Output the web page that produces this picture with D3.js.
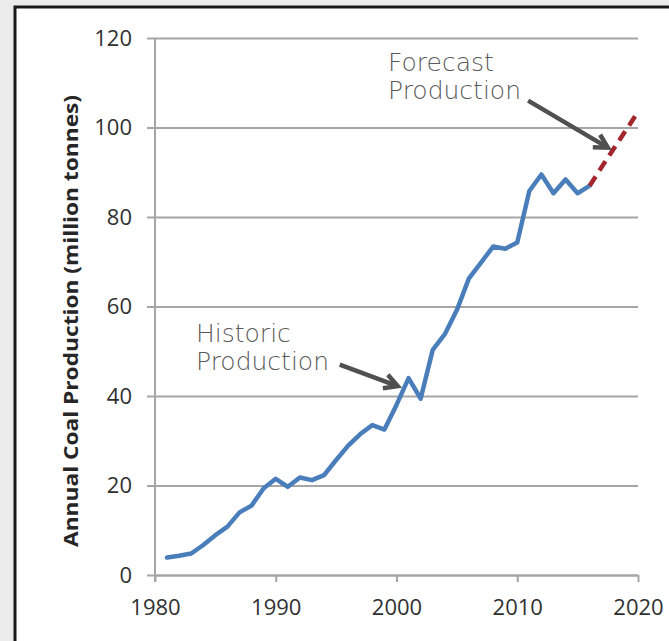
<!DOCTYPE html>
<html>
<head>
<meta charset="utf-8">
<script src="https://cdn.jsdelivr.net/npm/d3@7/dist/d3.min.js"></script>
<style>
  html, body { margin: 0; padding: 0; background: #ececec; }
  svg { display: block; }
</style>
</head>
<body>
<svg id="chart" width="669" height="641"></svg>
<script>
// ---- data ----
const historicYears = [1981,1982,1983,1984,1985,1986,1987,1988,1989,1990,1991,1992,1993,1994,1995,1996,1997,1998,1999,2000,2001,2002,2003,2004,2005,2006,2007,2008,2009,2010,2011,2012,2013,2014,2015,2016];
const historicValues = [3.9,4.3,4.8,6.7,8.9,10.8,14.0,15.5,19.4,21.5,19.7,21.8,21.2,22.3,25.7,28.9,31.5,33.5,32.5,38.0,44.0,39.4,50.3,53.8,59.2,66.3,69.8,73.4,72.9,74.3,85.8,89.5,85.3,88.4,85.3,87.0];
const forecastYears = [2016,2017,2018,2019,2020];
const forecastValues = [87.0,91.2,95.3,99.4,103.5];
const xTicks = [1980,1990,2000,2010,2020];
const yTicks = [0,20,40,60,80,100,120];
const yAxisTitle = "Annual Coal Production  (million tonnes)";
const annotations = [
  { lines: ["Historic", "Production"], from: [1995.3, 47.0], to: [2000.1, 42.2] },
  { lines: ["Forecast", "Production"], from: [2010.9, 106.0], to: [2017.5, 95.5] }
];

const svg = d3.select("#chart");

// panel with dark frame
svg.append("rect").attr("x", 0).attr("y", 0).attr("width", 669).attr("height", 641).attr("fill", "#ececec");
svg.append("rect").attr("x", 15).attr("y", 7).attr("width", 680).attr("height", 660)
  .attr("fill", "#ffffff").attr("stroke", "#1a1a1a").attr("stroke-width", 3);

const x = d3.scaleLinear().domain([1980, 2020]).range([155, 638]);
const y = d3.scaleLinear().domain([0, 120]).range([575, 38]);

const gridColor = "#a6a6a6";
const tickFont = "'Open Sans', 'DejaVu Sans', sans-serif";

// Y axis with gridlines
const yAxis = d3.axisLeft(y).tickValues(yTicks).tickSize(-(x.range()[1] - x.range()[0])).tickSizeOuter(0).tickPadding(23);
const gy = svg.append("g").attr("transform", `translate(${x(1980)},0)`).call(yAxis);
gy.select(".domain").remove();
gy.selectAll(".tick line").attr("stroke", gridColor).attr("stroke-width", 2);
gy.selectAll(".tick").append("line").attr("x1", -8).attr("x2", 0).attr("stroke", gridColor).attr("stroke-width", 2);
gy.selectAll(".tick text").attr("font-family", tickFont).attr("font-size", 22).attr("fill", "#303030");

// vertical axis line
svg.append("line").attr("x1", x(1980)).attr("x2", x(1980)).attr("y1", y(120)).attr("y2", y(0) + 7)
  .attr("stroke", gridColor).attr("stroke-width", 2);

// X axis
const xAxis = d3.axisBottom(x).tickValues(xTicks).tickFormat(d3.format("d")).tickSize(7).tickSizeOuter(0).tickPadding(17);
const gx = svg.append("g").attr("transform", `translate(0,${y(0)})`).call(xAxis);
gx.select(".domain").attr("stroke", gridColor).attr("stroke-width", 2);
gx.selectAll(".tick line").attr("stroke", gridColor).attr("stroke-width", 2);
gx.selectAll(".tick text").attr("font-family", tickFont).attr("font-size", 22).attr("fill", "#303030");

// Y axis title
svg.append("text")
  .attr("transform", `translate(78,321) rotate(-90)`)
  .attr("text-anchor", "middle")
  .attr("font-family", tickFont).attr("font-weight", "bold").attr("font-size", 19)
  .attr("textLength", 452).attr("lengthAdjust", "spacingAndGlyphs")
  .attr("fill", "#262626")
  .text(yAxisTitle);

// lines
const line = d3.line().x(d => x(d[0])).y(d => y(d[1]));
svg.append("path")
  .datum(historicYears.map((yr, i) => [yr, historicValues[i]]))
  .attr("d", line).attr("fill", "none").attr("stroke", "#4a7ebb").attr("stroke-width", 4.5)
  .attr("stroke-linejoin", "round").attr("stroke-linecap", "round");
svg.append("path")
  .datum(forecastYears.map((yr, i) => [yr, forecastValues[i]]))
  .attr("d", line).attr("fill", "none").attr("stroke", "#a3262d").attr("stroke-width", 4.5)
  .attr("stroke-dasharray", "11,7");

// annotations
const labelFont = "'DejaVu Sans', 'Lato', sans-serif";
const labelPos = [ { x: 196, y: 342 }, { x: 388, y: 71 } ];
annotations.forEach((a, i) => {
  const t = svg.append("text").attr("font-family", labelFont).attr("font-weight", 200)
    .attr("font-size", 25).attr("fill", "#595959");
  a.lines.forEach((s, j) => {
    t.append("tspan").attr("x", labelPos[i].x).attr("y", labelPos[i].y + j * 28).text(s);
  });
  const x1 = x(a.from[0]), y1 = y(a.from[1]), x2 = x(a.to[0]), y2 = y(a.to[1]);
  const ang = Math.atan2(y2 - y1, x2 - x1);
  const L = 15, spread = 0.5;
  svg.append("line").attr("x1", x1).attr("y1", y1).attr("x2", x2 - 3 * Math.cos(ang)).attr("y2", y2 - 3 * Math.sin(ang))
    .attr("stroke", "#505050").attr("stroke-width", 4.5);
  const p1 = [x2 - L * Math.cos(ang - spread), y2 - L * Math.sin(ang - spread)];
  const p2 = [x2 - L * Math.cos(ang + spread), y2 - L * Math.sin(ang + spread)];
  svg.append("path").attr("d", `M${p1[0]},${p1[1]}L${x2},${y2}L${p2[0]},${p2[1]}`)
    .attr("fill", "none").attr("stroke", "#505050").attr("stroke-width", 4.5).attr("stroke-linejoin", "miter");
});
</script>
</body>
</html>
